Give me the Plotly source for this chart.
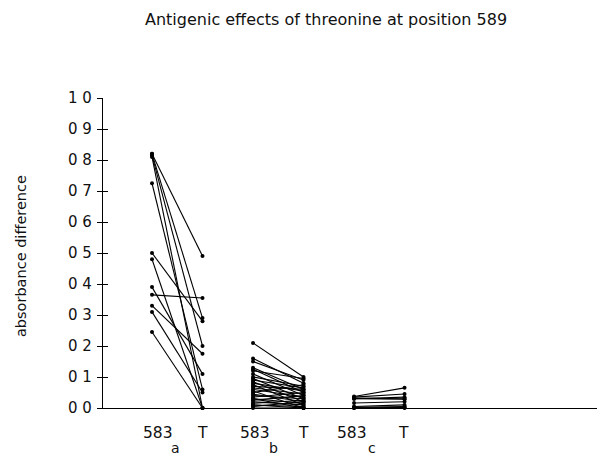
import plotly.graph_objects as go

# ---- data ----
groups = ["a", "b", "c"]
x_labels = ["583", "T", "583", "T", "583", "T"]
y_tick_vals = [0.0, 0.1, 0.2, 0.3, 0.4, 0.5, 0.6, 0.7, 0.8, 0.9, 1.0]
y_tick_text = ["0 0", "0 1", "0 2", "0 3", "0 4", "0 5", "0 6", "0 7", "0 8", "0 9", "1 0"]

a_583 = [0.82, 0.82, 0.815, 0.81, 0.725, 0.50, 0.48, 0.39, 0.365, 0.33, 0.31, 0.245]
a_T   = [0.49, 0.29, 0.20, 0.0, 0.06, 0.28, 0.0, 0.11, 0.355, 0.175, 0.05, 0.0]

b_583 = [0.21, 0.16, 0.15, 0.13, 0.125, 0.12, 0.11, 0.10, 0.095, 0.09, 0.085, 0.08,
         0.075, 0.07, 0.065, 0.06, 0.055, 0.05, 0.045, 0.04, 0.035, 0.03, 0.03,
         0.025, 0.02, 0.015, 0.01, 0.01, 0.005, 0.0]
b_T   = [0.10, 0.08, 0.09, 0.06, 0.05, 0.095, 0.04, 0.07, 0.03, 0.065, 0.02, 0.055,
         0.01, 0.06, 0.045, 0.035, 0.0, 0.075, 0.02, 0.03, 0.05, 0.015, 0.0,
         0.04, 0.01, 0.025, 0.005, 0.0, 0.02, 0.0]

c_583 = [0.037, 0.035, 0.032, 0.03, 0.03, 0.016, 0.005, 0.002, 0.0, 0.0]
c_T   = [0.065, 0.045, 0.03, 0.035, 0.028, 0.02, 0.01, 0.005, 0.0, 0.002]

# x positions of the 583 / T columns for each group
pos_583 = [1, 3, 5]
pos_T = [2, 4, 6]
label_pos = [1.12, 1.99, 3.04, 3.99, 4.96, 5.97]
group_label_pos = [1.46, 3.40, 5.36]

FONT = "DejaVu Sans"

fig = go.Figure()
for gi, (left, right) in enumerate([(a_583, a_T), (b_583, b_T), (c_583, c_T)]):
    xs, ys = [], []
    for l, r in zip(left, right):
        xs += [pos_583[gi], pos_T[gi], None]
        ys += [l, r, None]
    fig.add_trace(go.Scatter(
        x=xs, y=ys, mode="lines+markers",
        line=dict(color="black", width=1.1),
        marker=dict(color="black", size=4),
        showlegend=False, hoverinfo="skip", cliponaxis=False,
    ))

# invisible trace to activate overlay axis for inner tick marks
fig.add_trace(go.Scatter(x=[None], y=[None], yaxis="y2", showlegend=False))

annotations = [dict(
    text="Antigenic effects of threonine at position 589",
    xref="paper", yref="paper", x=0.451, y=(408 - 20) / 310,
    xanchor="center", yanchor="middle", showarrow=False,
    font=dict(family=FONT, size=16, color="#111"),
)]
for txt, xp in zip(x_labels, label_pos):
    annotations.append(dict(text=txt, x=xp, xref="x", yref="paper",
                            y=(408 - 433) / 310, xanchor="center", yanchor="middle",
                            showarrow=False, font=dict(family=FONT, size=15.5, color="#111")))
for txt, xp in zip(groups, group_label_pos):
    annotations.append(dict(text=txt, x=xp, xref="x", yref="paper",
                            y=(408 - 448) / 310, xanchor="center", yanchor="middle",
                            showarrow=False, font=dict(family=FONT, size=14, color="#111")))
annotations.append(dict(text="absorbance difference", textangle=-90,
                        xref="paper", yref="paper", x=(21 - 103) / 494, y=0.49,
                        xanchor="center", yanchor="middle", showarrow=False,
                        font=dict(family=FONT, size=14.5, color="#111")))

fig.update_layout(
    width=597, height=457,
    margin=dict(l=103, r=0, t=98, b=49),
    paper_bgcolor="white", plot_bgcolor="white",
    font=dict(family=FONT, color="#111"),
    xaxis=dict(range=[0.03, 9.81], showgrid=False, zeroline=False,
               showline=True, linecolor="black", linewidth=1.2,
               showticklabels=False, ticks=""),
    yaxis=dict(range=[0, 1.0], showgrid=False, zeroline=False,
               showline=True, linecolor="black", linewidth=1.2,
               tickvals=y_tick_vals, ticktext=y_tick_text,
               ticks="outside", ticklen=5, tickcolor="black", tickwidth=1,
               tickfont=dict(family=FONT, size=15, color="#111"),
               ticklabelstandoff=2),
    yaxis2=dict(range=[0, 1.0], overlaying="y", side="left", showgrid=False,
                zeroline=False, showline=False, tickvals=y_tick_vals[1:],
                ticks="inside", ticklen=5, tickcolor="black", tickwidth=1,
                showticklabels=False),
    annotations=annotations,
)

fig.write_html("out.html")
